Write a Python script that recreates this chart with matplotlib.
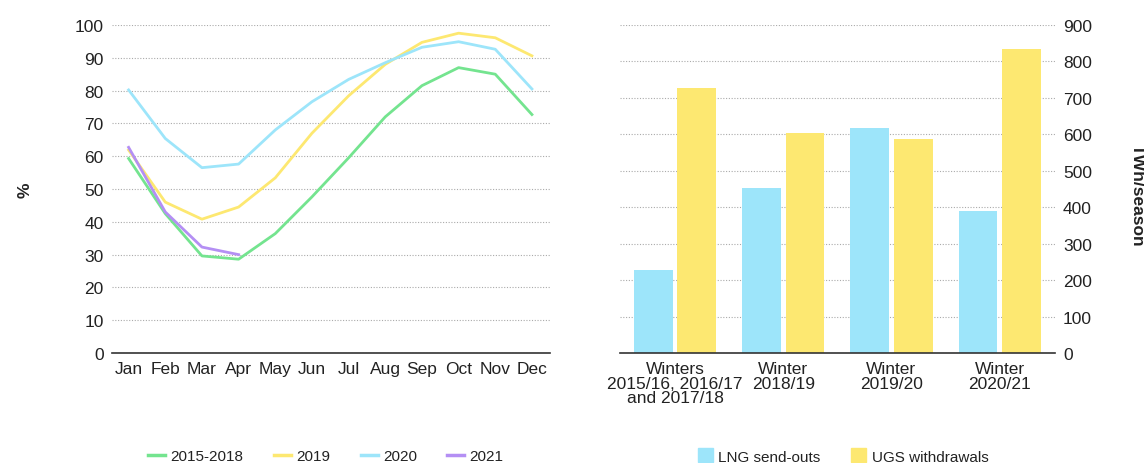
import numpy as np
import matplotlib.pyplot as plt
from matplotlib.lines import Line2D
from matplotlib.patches import Patch

plt.rcParams['font.family'] = ['Liberation Sans', 'DejaVu Sans']

months = ["Jan", "Feb", "Mar", "Apr", "May", "Jun", "Jul", "Aug", "Sep", "Oct", "Nov", "Dec"]
s_2015_2018 = [59.3, 42.5, 29.6, 28.6, 36.4, 47.6, 59.5, 72.0, 81.5, 87.0, 85.0, 72.7]
s_2019 = [61.9, 46.0, 40.8, 44.5, 53.4, 67.0, 78.4, 88.0, 94.7, 97.5, 96.1, 90.6]
s_2020 = [80.2, 65.4, 56.5, 57.6, 68.0, 76.6, 83.4, 88.5, 93.2, 94.9, 92.6, 80.5]
s_2021 = [62.7, 43.0, 32.3, 30.0]

winters = ["Winters\n2015/16, 2016/17\nand 2017/18", "Winter\n2018/19", "Winter\n2019/20", "Winter\n2020/21"]
lng = [227, 453, 618, 391]
ugs = [727, 604, 586, 834]

c_green = "#74e48f"
c_yellow = "#fde871"
c_cyan = "#9de5fa"
c_purple = "#b48ff4"
txt = "#222222"
fs = 12.5

fig = plt.figure(figsize=(11.44, 4.64), dpi=100)
ax1 = fig.add_axes([0.098, 0.237, 0.383, 0.707])
ax2 = fig.add_axes([0.542, 0.237, 0.380, 0.707])

x = np.arange(len(months))
ax1.plot(x, s_2015_2018, color=c_green, lw=2)
ax1.plot(x, s_2019, color=c_yellow, lw=2)
ax1.plot(x, s_2020, color=c_cyan, lw=2)
ax1.plot(x[:len(s_2021)], s_2021, color=c_purple, lw=2)
ax1.set_xlim(-0.45, 11.5)
ax1.set_ylim(0, 100)
ax1.set_yticks(range(0, 101, 10))
ax1.set_xticks(x)
ax1.set_xticklabels(months)
ax1.set_ylabel("%", fontsize=fs, fontweight="bold", color=txt, labelpad=30)

xb = np.arange(len(winters))
ax2.bar(xb - 0.2, lng, width=0.36, color=c_cyan)
ax2.bar(xb + 0.2, ugs, width=0.36, color=c_yellow)
ax2.set_xlim(-0.51, 3.51)
ax2.set_ylim(0, 900)
ax2.set_yticks(range(0, 901, 100))
ax2.set_xticks(xb)
ax2.set_xticklabels(winters, linespacing=0.95)
ax2.yaxis.tick_right()

for ax in (ax1, ax2):
    for s in ("top", "left", "right"):
        ax.spines[s].set_visible(False)
    ax.spines["bottom"].set_color("#333333")
    ax.spines["bottom"].set_linewidth(1.2)
    ax.grid(axis="y", color="#aaaaaa", linestyle=(0, (1, 1.5)), linewidth=0.8)
    ax.set_axisbelow(True)
    ax.tick_params(length=0, labelsize=fs, colors=txt, pad=6)

fig.text(1137 / 1144, 0.58, "TWh/season", rotation=270, ha="center", va="center",
         fontsize=fs, fontweight="bold", color=txt)

h1 = [Line2D([], [], color=c, lw=2.5) for c in (c_green, c_yellow, c_cyan, c_purple)]
fig.legend(h1, ["2015-2018", "2019", "2020", "2021"], loc="center", bbox_to_anchor=(326 / 1144, 1 - 457 / 464),
           ncol=4, frameon=False, fontsize=11, handlelength=1.1, handletextpad=0.35, columnspacing=2.0,
           labelcolor=txt)
h2 = [Patch(color=c_cyan), Patch(color=c_yellow)]
fig.legend(h2, ["LNG send-outs", "UGS withdrawals"], loc="center", bbox_to_anchor=(843 / 1144, 1 - 457 / 464),
           ncol=2, frameon=False, fontsize=11, handlelength=1.0, handleheight=1.0, handletextpad=0.35,
           columnspacing=2.0, labelcolor=txt)

fig.savefig("out.png", dpi=100)
